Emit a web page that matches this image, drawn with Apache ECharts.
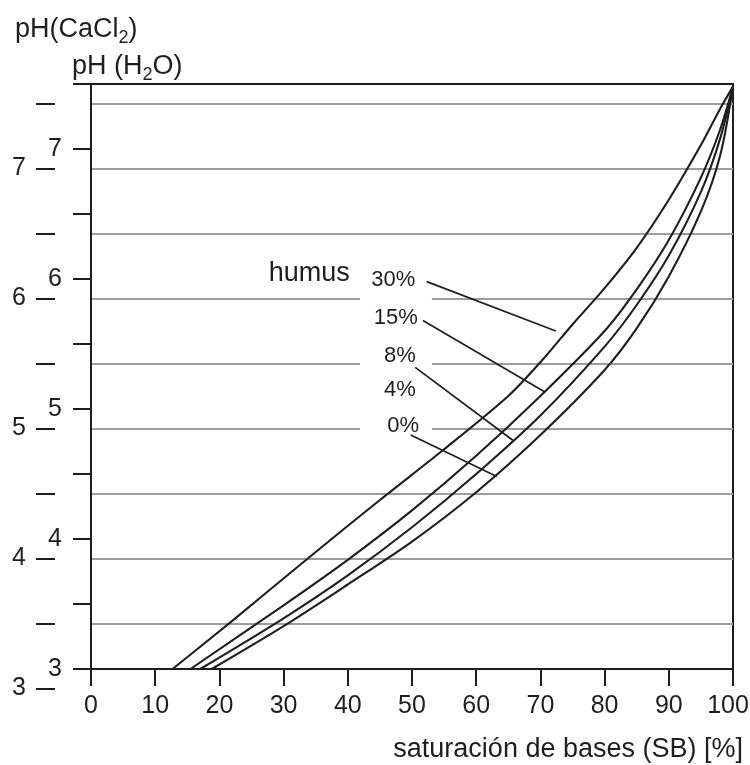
<!DOCTYPE html>
<html><head><meta charset="utf-8">
<script src="https://cdn.jsdelivr.net/npm/echarts@6/dist/echarts.min.js"></script>
<style>html,body{margin:0;padding:0;background:#fff}#c{width:750px;height:765px}</style>
</head><body><div id="c"></div>
<script>
// Curves: [base saturation %, pH(H2O)]
const curve30 = [[12.7,3.0],[22,3.37],[34,3.86],[45,4.30],[55,4.69],[65,5.10],[70,5.36],[75,5.65],[80,5.93],[85,6.24],[90,6.61],[95,7.03],[98,7.31],[100,7.48]];
const curve15 = [[15.5,3.0],[30,3.49],[40,3.84],[50,4.22],[60,4.64],[70,5.10],[80,5.60],[85,5.92],[90,6.30],[95,6.78],[98,7.15],[100,7.48]];
const curve8  = [[17.0,3.0],[30,3.39],[40,3.72],[50,4.09],[60,4.50],[70,4.95],[80,5.48],[85,5.80],[90,6.18],[95,6.67],[98,7.08],[100,7.48]];
const curve0  = [[18.8,3.0],[30,3.33],[40,3.65],[50,3.98],[60,4.36],[70,4.80],[80,5.30],[85,5.62],[90,6.02],[95,6.52],[98,6.95],[100,7.48]];
const curves = [curve30, curve15, curve8, curve0];

// Annotation labels [SB, pH(H2O)] and leader lines
const humusLabel = {text:'humus', at:[40.3, 6.04]};
const pctLabels = [
  {text:'30%', at:[50.5, 5.99]},
  {text:'15%', at:[50.9, 5.70]},
  {text:'8%',  at:[50.6, 5.41]},
  {text:'4%',  at:[50.6, 5.15]},
  {text:'0%',  at:[51.1, 4.87]}
];
const leaders = [
  [[52.3,5.98],[72.4,5.60]],
  [[51.7,5.68],[70.7,5.13]],
  [[50.5,5.32],[65.7,4.76]],
  [[49.8,4.80],[63.2,4.48]]
];
const labelMask = [[41.9,4.75],[53.1,5.95]];

// Axes
const sbMin = 0, sbMax = 100, sbStep = 10;
const phH2OMin = 3, phH2OMax = 7.5, phStep = 0.5;
const phCaMin = 3, phCaMax = 7.5;

const INK = '#1e1e1e';
const FONT = '"Liberation Sans", Arial, Helvetica, sans-serif';
const intLabel = v => (Math.abs(v - Math.round(v)) < 1e-9 ? String(Math.round(v)) : '');

const series = [];
series.push({
  type:'line', xAxisIndex:0, yAxisIndex:0, data:[], silent:true, z:1,
  markArea:{silent:true, itemStyle:{color:'#ffffff', opacity:1}, data:[[{coord:labelMask[0]},{coord:labelMask[1]}]]}
});
curves.forEach(c => series.push({
  type:'line', xAxisIndex:0, yAxisIndex:0, data:c, showSymbol:false, symbol:'none',
  smooth:0.3, lineStyle:{color:INK, width:2.1}, z:4, silent:true
}));
leaders.forEach(l => series.push({
  type:'line', xAxisIndex:0, yAxisIndex:0, data:l, showSymbol:false, symbol:'none',
  lineStyle:{color:INK, width:1.7}, z:4, silent:true
}));
series.push({
  type:'scatter', xAxisIndex:0, yAxisIndex:0, symbolSize:0, z:5, silent:true, itemStyle:{opacity:1},
  data: pctLabels.map(p => ({name:p.text, value:p.at})),
  label:{show:true, position:[0,0], formatter:p=>p.name, align:'right', verticalAlign:'middle',
         fontSize:22, color:INK, fontFamily:FONT}
});
series.push({
  type:'scatter', xAxisIndex:0, yAxisIndex:0, symbolSize:0, z:5, silent:true, itemStyle:{opacity:1},
  data:[{name:humusLabel.text, value:humusLabel.at}],
  label:{show:true, position:[0,0], formatter:p=>p.name, align:'right', verticalAlign:'middle',
         fontSize:27, color:INK, fontFamily:FONT}
});

const gridCommon = {outerBoundsMode:'none', containLabel:false};
const option = {
  animation:false,
  backgroundColor:'#ffffff',
  title:[
    {text:'pH(CaCl{s|2})', left:15, top:13, padding:0,
     textStyle:{fontSize:27, fontWeight:'normal', color:INK, fontFamily:FONT,
       rich:{s:{fontSize:18, color:INK, fontFamily:FONT, padding:[16,0,0,0]}}}},
    {text:'pH (H{s|2}O)', left:72, top:50, padding:0,
     textStyle:{fontSize:27, fontWeight:'normal', color:INK, fontFamily:FONT,
       rich:{s:{fontSize:18, color:INK, fontFamily:FONT, padding:[16,0,0,0]}}}},
    {text:'saturación de bases (SB) [%]', right:7, top:736, padding:0,
     textStyle:{fontSize:27, fontWeight:'normal', color:INK, fontFamily:FONT}}
  ],
  grid:[
    Object.assign({left:91, right:17, top:84, bottom:96, show:true, borderColor:INK, borderWidth:2, backgroundColor:'transparent'}, gridCommon),
    Object.assign({left:55, right:17, top:103.5, bottom:76.5}, gridCommon),
    Object.assign({left:91, right:17, top:103.5, bottom:76.5}, gridCommon)
  ],
  xAxis:[
    {gridIndex:0, type:'value', min:sbMin, max:sbMax, interval:sbStep,
     axisLine:{show:true, lineStyle:{color:INK, width:2}},
     axisTick:{show:true, length:17, lineStyle:{color:INK, width:2}},
     axisLabel:{fontSize:25, margin:25, color:INK, fontFamily:FONT,
       formatter:v => (v === sbMax ? '{last|' + v + '}' : String(v)),
       rich:{last:{fontSize:25, color:INK, fontFamily:FONT, padding:[0,10,0,0]}}},
     splitLine:{show:false}},
    {gridIndex:1, type:'value', min:sbMin, max:sbMax, show:false},
    {gridIndex:2, type:'value', min:sbMin, max:sbMax, show:false}
  ],
  yAxis:[
    {gridIndex:0, type:'value', min:phH2OMin, max:phH2OMax, interval:phStep,
     axisLine:{show:true, lineStyle:{color:INK, width:2}},
     axisTick:{show:true, length:18, lineStyle:{color:INK, width:2}},
     axisLabel:{fontSize:25, margin:29, color:INK, fontFamily:FONT, formatter:intLabel, showMinLabel:true, showMaxLabel:true},
     splitLine:{show:false}},
    {gridIndex:1, type:'value', min:phCaMin, max:phCaMax, interval:phStep, position:'left',
     axisLine:{show:false},
     axisTick:{show:true, length:19, lineStyle:{color:INK, width:2}},
     axisLabel:{fontSize:25, margin:29, color:INK, fontFamily:FONT, formatter:intLabel, showMinLabel:true},
     splitLine:{show:false}},
    {gridIndex:2, type:'value', min:phCaMin, max:phCaMax, interval:phStep,
     axisLine:{show:false}, axisTick:{show:false}, axisLabel:{show:false},
     splitLine:{show:true, showMinLine:false, showMaxLine:true, lineStyle:{color:'#9d9d9d', width:2}}}
  ],
  series
};
const chart = echarts.init(document.getElementById('c'), null, {renderer:'canvas'});
chart.setOption(option);
</script>
</body></html>
